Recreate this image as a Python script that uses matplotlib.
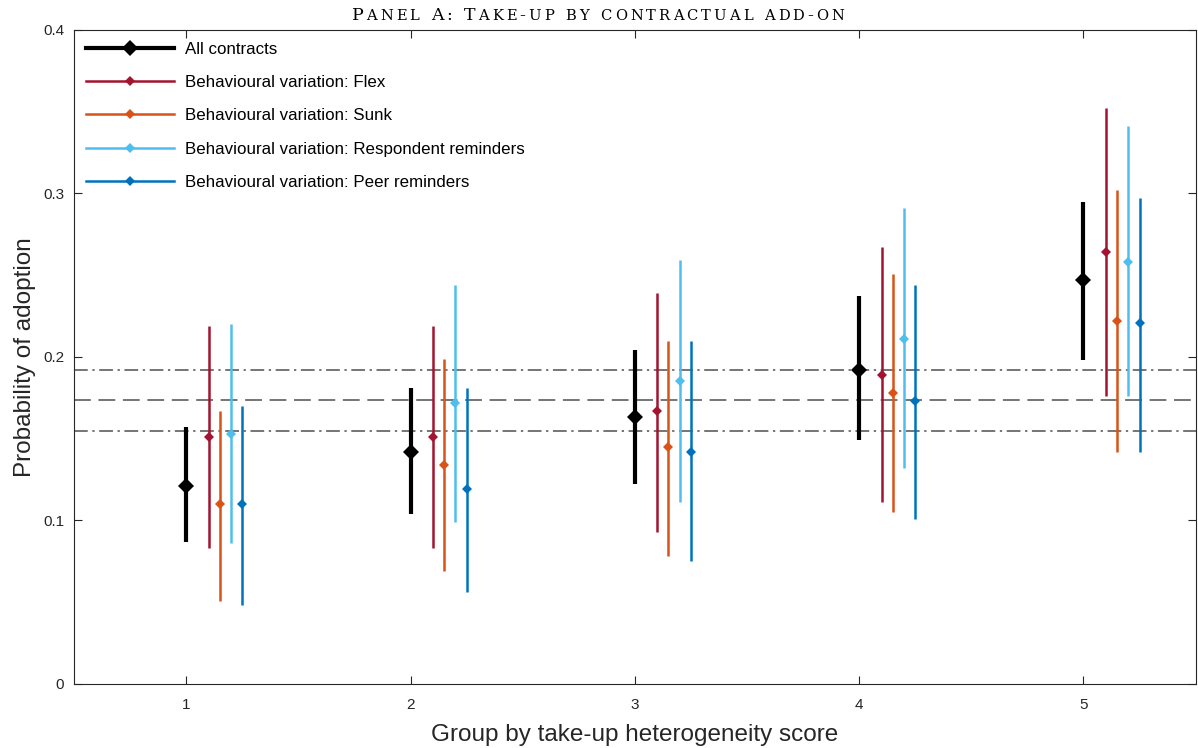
import numpy as np
import matplotlib.pyplot as plt

plt.rcParams['font.family'] = ['Liberation Sans', 'DejaVu Sans']

groups = [1, 2, 3, 4, 5]
series = ["All contracts",
          "Behavioural variation: Flex",
          "Behavioural variation: Sunk",
          "Behavioural variation: Respondent reminders",
          "Behavioural variation: Peer reminders"]

# point estimates and confidence bounds, one list per series
est_all = [0.121, 0.142, 0.163, 0.192, 0.247]
lo_all = [0.087, 0.104, 0.122, 0.149, 0.198]
hi_all = [0.157, 0.181, 0.204, 0.237, 0.295]

est_flex = [0.151, 0.151, 0.167, 0.189, 0.264]
lo_flex = [0.083, 0.083, 0.093, 0.111, 0.176]
hi_flex = [0.219, 0.219, 0.239, 0.267, 0.352]

est_sunk = [0.110, 0.134, 0.145, 0.178, 0.222]
lo_sunk = [0.051, 0.069, 0.078, 0.105, 0.142]
hi_sunk = [0.167, 0.199, 0.210, 0.251, 0.302]

est_resp = [0.153, 0.172, 0.185, 0.211, 0.258]
lo_resp = [0.086, 0.099, 0.111, 0.132, 0.176]
hi_resp = [0.220, 0.244, 0.259, 0.291, 0.341]

est_peer = [0.110, 0.119, 0.142, 0.173, 0.221]
lo_peer = [0.048, 0.056, 0.075, 0.101, 0.142]
hi_peer = [0.170, 0.181, 0.210, 0.244, 0.297]

# reference lines: pooled mean and its band
mean_line = 0.1735
band_lo = 0.1545
band_hi = 0.192

title = "Panel A: Take-up by contractual add-on"

offsets = [0, 0.1, 0.15, 0.2, 0.25]
colors = ["black", "#A2142F", "#D95319", "#4DBEEE", "#0072BD"]
widths = [3.0, 1.8, 1.8, 1.8, 1.8]
msizes = [8, 5.5, 5.5, 5.5, 5.5]

data = [(est_all, lo_all, hi_all), (est_flex, lo_flex, hi_flex),
        (est_sunk, lo_sunk, hi_sunk), (est_resp, lo_resp, hi_resp),
        (est_peer, lo_peer, hi_peer)]

fig = plt.figure(figsize=(11.98, 7.48), dpi=100)
ax = fig.add_axes([0.0618, 0.0856, 0.9362, 0.8744])

dashdot = (0, (9, 3, 1.5, 3))
ax.axhline(band_hi, color="#505050", lw=1.1, ls=dashdot, zorder=1)
ax.axhline(mean_line, color="#505050", lw=1.1, ls=(0, (11, 5)), zorder=1)
ax.axhline(band_lo, color="#505050", lw=1.1, ls=dashdot, zorder=1)

x = np.array(groups, dtype=float)
for (est, lo, hi), off, c, w, ms, name in zip(data, offsets, colors, widths, msizes, series):
    est = np.array(est)
    err = [est - np.array(lo), np.array(hi) - est]
    ax.errorbar(x + off, est, yerr=err, fmt="D", color=c, ecolor=c,
                elinewidth=w, lw=w, capsize=0, markersize=ms,
                markeredgewidth=0, label=name, zorder=3)

# legend handles: line with diamond in the middle
handles = []
for c, w, ms, name in zip(colors, widths, msizes, series):
    h, = ax.plot([], [], color=c, lw=w, marker="D", markersize=ms,
                 markeredgewidth=0, label=name)
    handles.append(h)
ax.legend(handles=handles, loc="upper left", frameon=False, fontsize=12.2,
          handlelength=5.2, handletextpad=0.65, labelspacing=1.08,
          borderaxespad=0.3, bbox_to_anchor=(0.0, 1.0))

ax.set_xlim(0.5, 5.5)
ax.set_ylim(0, 0.4)
ax.set_xticks(groups)
ax.set_yticks([0, 0.1, 0.2, 0.3, 0.4])
ax.set_yticklabels(["0", "0.1", "0.2", "0.3", "0.4"])
ax.tick_params(direction="in", top=True, right=True, labelsize=11,
               colors="#262626", length=6, width=0.8)
ax.tick_params(axis="x", pad=10)
ax.tick_params(axis="y", pad=7)
for s in ax.spines.values():
    s.set_color("#262626")
    s.set_linewidth(0.8)

ax.set_xlabel("Group by take-up heterogeneity score", fontsize=17.5,
              color="#262626", labelpad=9)
ax.set_ylabel("Probability of adoption", fontsize=17.5, color="#262626",
              labelpad=5)

# small-caps title, set letter by letter with a little tracking
serif = ["DejaVu Serif"]
renderer = fig.canvas.get_renderer()
letters = []
for ch in title:
    fs = 12.5 if not ch.islower() else 10.6
    t = fig.text(0, 0, ch.upper(), fontsize=fs, family=serif,
                 fontweight="normal", ha="left", va="baseline", transform=None)
    w = t.get_window_extent(renderer).width if ch != " " else 0.3 * fs * 100 / 72
    letters.append((t, w))
title_width = 493
gap = (title_width - sum(w for _, w in letters)) / (len(letters) - 1)
xpos = 598 - title_width / 2
ybase = fig.bbox.height - 20
for t, w in letters:
    t.set_position((xpos, ybase))
    xpos += w + gap

fig.savefig("out.png", dpi=100)
